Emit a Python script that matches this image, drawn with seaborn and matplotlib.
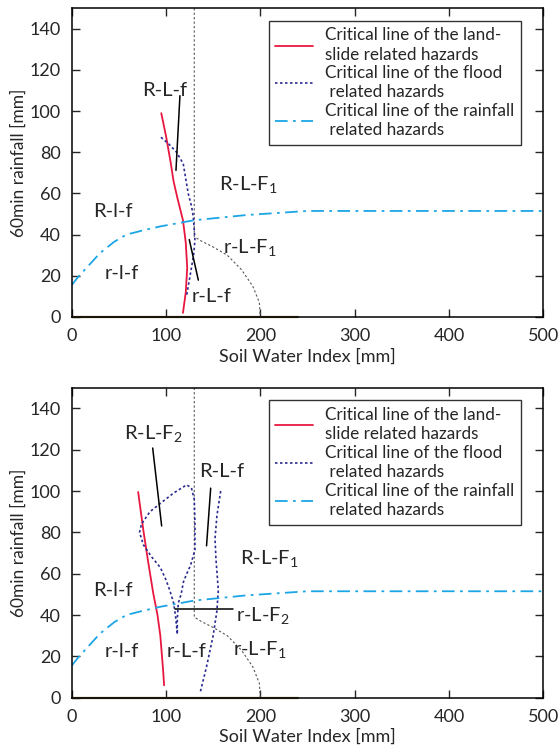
import matplotlib
matplotlib.use("Agg")
import matplotlib.pyplot as plt
import seaborn as sns
import pandas as pd

# ---- data ----
cyan_x = [0, 7, 15, 30, 45, 58, 75, 94, 130, 185, 250, 500]
cyan_y = [15.5, 19.5, 23.5, 31, 36.5, 40, 42, 44, 47, 49.5, 51.5, 51.5]

grey_x = [130, 130, 137, 150, 165, 180, 192, 199, 200]
grey_y = [150, 39, 37, 34, 30, 23, 15, 7, 0]

base_x = [0, 240]
base_y = [0, 0]

# upper panel
red1_x = [95, 100, 105, 108, 112, 118, 121, 122.5, 121, 118]
red1_y = [99, 88, 75, 66, 58, 47, 36, 24, 12, 2]
blue1_x = [94.7, 103, 111.3, 118.3, 121, 123.6, 127, 129, 130.7, 129.5, 127.2, 122]
blue1_y = [87.3, 84, 80, 74.4, 67, 60, 54, 48.6, 37.3, 31, 24.4, 10.7]

# lower panel
red2_x = [70.5, 76, 81, 86.5, 91, 94, 95.5, 97, 98]
red2_y = [99.5, 81, 66, 50.5, 40, 30, 21.5, 13, 6]
loop_x = [112, 110, 108, 104, 100, 94, 85, 76, 72, 74, 83, 94, 108, 122, 127, 130,
          130.7, 130.7, 126, 122, 118.5, 116, 113, 112, 112]
loop_y = [31, 40, 46, 52, 57, 63, 68, 74, 80, 84, 90, 94, 99, 103, 101.5, 96,
          85, 71.5, 64, 60, 56, 50, 45.7, 38, 31]
blue2_x = [158, 154, 152, 153, 155.5, 154, 150, 143, 136]
blue2_y = [100, 88, 77, 67, 52, 42, 30, 15, 2]

labels_top = [("R-L-f", 99, 110), ("R-l-f", 44, 51), ("r-l-f", 53, 21),
              ("r-L-f", 148.5, 9.8), (r"R-L-F$_\mathrm{1}$", 187, 64),
              (r"r-L-F$_\mathrm{1}$", 189, 33.3)]
leaders_top = [([114.8, 110.6], [107.5, 71.2]), ([124.7, 134.3], [37.6, 17.9])]

labels_bot = [(r"R-L-F$_\mathrm{2}$", 86.6, 127.2), ("R-L-f", 159, 109.4),
              (r"R-L-F$_\mathrm{1}$", 209.5, 66.7), ("R-l-f", 44, 52),
              (r"r-L-F$_\mathrm{2}$", 203, 39.2), ("r-l-f", 53, 22.3),
              ("r-L-f", 122, 22.3), (r"r-L-F$_\mathrm{1}$", 199.7, 23)]
leaders_bot = [([85.9, 95.4], [120.8, 83.1]), ([147.4, 143], [101.4, 73.5]),
               ([109.5, 171.4], [42.8, 42.8])]

leg_names = ["Critical line of the land-\nslide related hazards",
             "Critical line of the flood\n related hazards",
             "Critical line of the rainfall\n related hazards"]

RED = "#e8173f"
BLUE = "#2a2a8f"
CYAN = "#1aa6e6"

sns.set_style("ticks")
plt.rcParams["font.family"] = ["Lato", "DejaVu Sans"]
plt.rcParams["mathtext.fontset"] = "custom"
plt.rcParams["mathtext.rm"] = "Lato"

fig = plt.figure(figsize=(5.6, 7.47), dpi=100)
ax1 = fig.add_axes([0.128, 0.5757, 0.842, 0.4133])
ax2 = fig.add_axes([0.128, 0.066, 0.842, 0.415])


def draw(ax, reds, blues, labels, leaders):
    sns.lineplot(x=base_x, y=base_y, ax=ax, color="#6b5d2e", lw=1.6,
                 sort=False, estimator=None, clip_on=False)
    sns.lineplot(x=grey_x, y=grey_y, ax=ax, color="#555555", lw=0.8,
                 sort=False, estimator=None)
    ax.lines[-1].set_dashes([2, 2])
    h1 = None
    for rx, ry in reds:
        sns.lineplot(x=rx, y=ry, ax=ax, color=RED, lw=1.3, sort=False, estimator=None)
        h1 = ax.lines[-1]
    h2 = None
    for bx, by in blues:
        sns.lineplot(x=bx, y=by, ax=ax, color=BLUE, lw=1.2, sort=False, estimator=None)
        ax.lines[-1].set_dashes([1.5, 1.5])
        h2 = ax.lines[-1]
    sns.lineplot(x=cyan_x, y=cyan_y, ax=ax, color=CYAN, lw=1.3, sort=False, estimator=None)
    ax.lines[-1].set_dashes([7, 3, 1.5, 3])
    h3 = ax.lines[-1]
    for lx, ly in leaders:
        ax.plot(lx, ly, color="black", lw=1.1)
    for t, x, y in labels:
        ax.text(x, y, t, fontsize=14.5, ha="center", va="center")

    ax.set_xlim(0, 500)
    ax.set_ylim(0, 150)
    ax.set_xticks(range(0, 501, 100))
    ax.set_yticks(range(0, 141, 20))
    ax.tick_params(direction="in", top=True, right=True, length=6, width=1,
                   labelsize=13, pad=8)
    for s in ax.spines.values():
        s.set_linewidth(1.1)
        s.set_color("black")
    ax.set_xlabel("Soil Water Index [mm]", fontsize=13, labelpad=3)
    ax.set_ylabel("60min rainfall [mm]", fontsize=12.5, labelpad=2)
    leg = ax.legend([h1, h2, h3], leg_names, loc="upper right",
                    bbox_to_anchor=(0.953, 0.96), borderaxespad=0, fontsize=12.3,
                    frameon=True, fancybox=False, edgecolor="black",
                    handlelength=2.2, labelspacing=0.15, borderpad=0.4,
                    handletextpad=0.7)
    leg.get_frame().set_linewidth(1.0)
    for t in leg.get_texts():
        t.set_linespacing(1.25)


draw(ax1, [(red1_x, red1_y)], [(blue1_x, blue1_y)], labels_top, leaders_top)
draw(ax2, [(red2_x, red2_y)], [(loop_x, loop_y), (blue2_x, blue2_y)], labels_bot, leaders_bot)

fig.savefig("out.png", dpi=100)
